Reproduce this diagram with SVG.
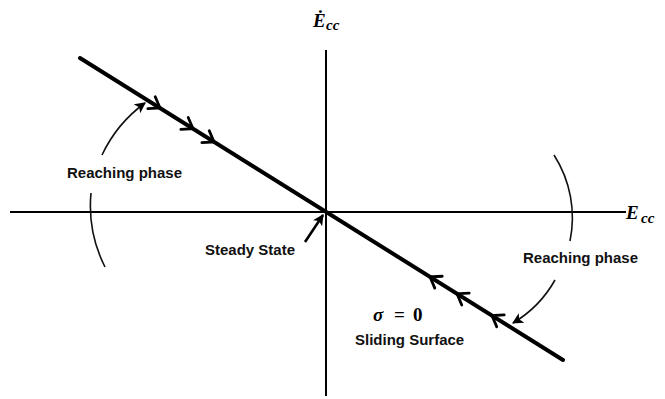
<svg xmlns="http://www.w3.org/2000/svg" xmlns:xlink="http://www.w3.org/1999/xlink" width="665" height="399" viewBox="0 0 665 399">
<style>
.axis{stroke:#000;stroke-width:2;fill:none}
.main{stroke:#000;stroke-width:4;fill:none;stroke-linecap:round}
.arc{stroke:#111;stroke-width:1.6;fill:none}
.chev{stroke:#000;stroke-width:2.8;fill:none;stroke-linejoin:miter;stroke-linecap:round}
.lbl{font-family:"Liberation Sans",Arial,sans-serif;font-weight:bold;font-size:15px;fill:#111}
.math{font-family:"Liberation Serif","Times New Roman",serif;font-weight:bold;fill:#000}
</style>
<defs>
<marker id="ah2" viewBox="0 0 10 10" refX="9" refY="5" markerWidth="11" markerHeight="11" orient="auto" markerUnits="userSpaceOnUse">
<path d="M0,0 L10,5 L0,10 L2.5,5 Z" fill="#000"/>
</marker>
<path id="chev" class="chev" d="M-10,-7 L0,0 L-10,7"/>
</defs>
<rect width="665" height="399" fill="#fff"/>
<g id="axes">
<line class="axis" x1="10" y1="212" x2="626" y2="212"/>
<line class="axis" x1="326" y1="50" x2="326" y2="396"/>
</g>
<g id="sliding-line">
<line class="main" x1="80" y1="58" x2="563" y2="360"/>
<use xlink:href="#chev" transform="translate(160,108) rotate(32)"/>
<use xlink:href="#chev" transform="translate(193,128.7) rotate(32)"/>
<use xlink:href="#chev" transform="translate(214,141.9) rotate(32)"/>
<use xlink:href="#chev" transform="translate(430,276.9) rotate(212)"/>
<use xlink:href="#chev" transform="translate(457,293.7) rotate(212)"/>
<use xlink:href="#chev" transform="translate(492,315.6) rotate(212)"/>
</g>
<g id="connectors">
<path class="arc" d="M102,155 A136,136 0 0,1 145,103" marker-end="url(#ah2)"/>
<path class="arc" d="M91,193 A136,136 0 0,0 105,267"/>
<path class="arc" d="M554,155 A116,116 0 0,1 570,241"/>
<path class="arc" d="M555,280 A116,116 0 0,1 513,323" marker-end="url(#ah2)"/>
<line x1="305" y1="242" x2="323" y2="215" stroke="#000" stroke-width="2.6" marker-end="url(#ah2)"/>
</g>
<g id="label-ydot">
<text class="math" x="313" y="27" font-size="19" font-style="italic">Ė</text>
<text class="math" x="326" y="30" font-size="15" font-style="italic">cc</text>
</g>
<g id="label-x">
<text class="math" x="626" y="219" font-size="19" font-style="italic">E</text>
<text class="math" x="641" y="223" font-size="15" font-style="italic">cc</text>
</g>
<g id="reaching-left"><text class="lbl" x="67" y="178">Reaching phase</text></g>
<g id="reaching-right"><text class="lbl" x="523" y="263">Reaching phase</text></g>
<g id="steady"><text class="lbl" x="205" y="255">Steady State</text></g>
<g id="sigma"><text class="math" y="321" font-size="19"><tspan x="373" font-style="italic">σ</tspan><tspan x="394">=</tspan><tspan x="413">0</tspan></text></g>
<g id="sliding"><text class="lbl" x="355" y="345">Sliding Surface</text></g>
</svg>
